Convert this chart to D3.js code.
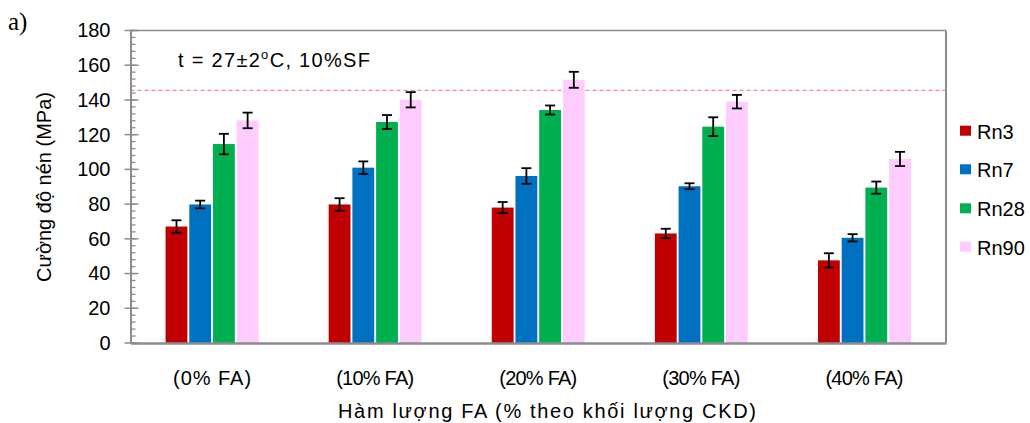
<!DOCTYPE html>
<html><head><meta charset="utf-8">
<script src="https://cdn.jsdelivr.net/npm/d3@7"></script>
<style>
html,body{margin:0;padding:0;background:#fff;}
svg{display:block;font-family:"Liberation Sans",Arial,sans-serif;}
</style></head>
<body>
<svg id="chart" width="1030" height="423"></svg>
<script>
const categories = ["(0% FA)", "(10% FA)", "(20% FA)", "(30% FA)", "(40% FA)"];
const seriesNames = ["Rn3", "Rn7", "Rn28", "Rn90"];
const rn3  = [67.1, 79.8, 78.0, 63.1, 47.6];
const rn7  = [79.8, 101.0, 96.2, 90.3, 60.6];
const rn28 = [114.6, 127.3, 134.2, 124.6, 89.5];
const rn90 = [128.2, 140.1, 151.6, 139.0, 106.0];
const err3  = [3.6, 3.6, 3.2, 2.7, 4.1];
const err7  = [2.2, 3.6, 4.5, 1.7, 2.1];
const err28 = [5.9, 4.0, 2.6, 5.4, 3.5];
const err90 = [4.5, 4.4, 4.6, 3.9, 4.1];
const yTicks = [0, 20, 40, 60, 80, 100, 120, 140, 160, 180];
const refLine = 145.5;
const colors = ["#C00000", "#0070C0", "#00B050", "#FFCCFF"];

const values = [rn3, rn7, rn28, rn90];
const errors = [err3, err7, err28, err90];

const svg = d3.select("#chart");
const L = 130.5, R = 946, T = 30.5, B = 343;

const y = d3.scaleLinear().domain([0, 180]).range([B, T]);
const x = d3.scaleBand().domain(categories).range([L, R]).paddingInner(0.43).paddingOuter(0.215);
const xs = d3.scaleBand().domain(seriesNames).range([0, x.bandwidth()]).paddingInner(0.08);

// frame (top + right)
svg.append("line").attr("x1", L).attr("x2", R).attr("y1", T).attr("y2", T)
  .attr("stroke", "#8c8c8c").attr("stroke-width", 1.5);
svg.append("line").attr("x1", R).attr("x2", R).attr("y1", T).attr("y2", B)
  .attr("stroke", "#8c8c8c").attr("stroke-width", 2);

// reference dashed line
svg.append("line").attr("x1", L).attr("x2", R).attr("y1", y(refLine)).attr("y2", y(refLine))
  .attr("stroke", "#EA8E8E").attr("stroke-width", 1.3).attr("stroke-dasharray", "4,3");

// bars
const data = [];
categories.forEach((c, i) => seriesNames.forEach((s, j) => data.push({c, s, j, v: values[j][i], e: errors[j][i]})));
svg.append("g").selectAll("rect").data(data).join("rect")
  .attr("x", d => x(d.c) + xs(d.s))
  .attr("width", xs.bandwidth())
  .attr("y", d => y(d.v))
  .attr("height", d => y(0) - y(d.v))
  .attr("fill", d => colors[d.j]);

// error bars
const eg = svg.append("g").attr("stroke", "#000").attr("stroke-width", 1.8);
data.forEach(d => {
  const cx = x(d.c) + xs(d.s) + xs.bandwidth() / 2;
  eg.append("line").attr("x1", cx).attr("x2", cx).attr("y1", y(d.v + d.e)).attr("y2", y(d.v - d.e));
  eg.append("line").attr("x1", cx - 5).attr("x2", cx + 5).attr("y1", y(d.v + d.e)).attr("y2", y(d.v + d.e));
  eg.append("line").attr("x1", cx - 5).attr("x2", cx + 5).attr("y1", y(d.v - d.e)).attr("y2", y(d.v - d.e));
});

// y axis minor ticks
const minor = d3.range(0, 181, 4);
svg.append("g").selectAll("line").data(minor).join("line")
  .attr("x1", L).attr("x2", L + 5).attr("y1", d => y(d)).attr("y2", d => y(d))
  .attr("stroke", "#8c8c8c").attr("stroke-width", 1.3);

// y axis
const yAxis = d3.axisLeft(y).tickValues(yTicks).tickSize(0).tickPadding(20);
const yg = svg.append("g").attr("transform", `translate(${L},0)`).call(yAxis);
yg.select(".domain").attr("stroke", "#8c8c8c").attr("stroke-width", 2);
yg.selectAll("text").attr("font-size", 20).attr("fill", "#000")
  .attr("font-family", "'Liberation Sans', Arial, sans-serif");
svg.append("g").selectAll("line").data(yTicks).join("line")
  .attr("x1", L - 6).attr("x2", L + 8).attr("y1", d => y(d)).attr("y2", d => y(d))
  .attr("stroke", "#8c8c8c").attr("stroke-width", 1.5);

// x axis
const xAxis = d3.axisBottom(x).tickSize(0).tickPadding(0);
const xg = svg.append("g").attr("transform", `translate(0,${B})`).call(xAxis);
xg.select(".domain").attr("stroke", "#8c8c8c").attr("stroke-width", 2.5);
xg.selectAll("text").attr("font-size", 20).attr("fill", "#000")
  .attr("font-family", "'Liberation Sans', Arial, sans-serif")
  .attr("y", 42).attr("dy", 0).attr("textLength", 78).attr("lengthAdjust", "spacing");

// axis titles
svg.append("text").attr("x", 547).attr("y", 418).attr("text-anchor", "middle")
  .attr("font-size", 20).attr("textLength", 418).attr("lengthAdjust", "spacing")
  .text("Hàm lượng FA (% theo khối lượng CKD)");
svg.append("text").attr("transform", "translate(51,187) rotate(-90)").attr("text-anchor", "middle")
  .attr("font-size", 20).text("Cường độ nén (MPa)");

// panel label
svg.append("text").attr("x", 8).attr("y", 30).attr("font-family", "'Liberation Serif','Times New Roman',serif")
  .attr("font-size", 25).text("a)");

// annotation
const ann = svg.append("text").attr("x", 178).attr("y", 67).attr("font-size", 20).attr("letter-spacing", 1.3);
ann.append("tspan").text("t = 27±2");
ann.append("tspan").attr("font-size", 13).attr("dy", -8).text("o");
ann.append("tspan").attr("dy", 8).text("C, 10%SF");

// legend
const lg = svg.append("g");
const legY = [130.7, 169.3, 208.3, 246.7];
seriesNames.forEach((s, j) => {
  lg.append("rect").attr("x", 960).attr("y", legY[j] - 5).attr("width", 11).attr("height", 10).attr("fill", colors[j]);
  lg.append("text").attr("x", 977).attr("y", legY[j] + 8).attr("font-size", 20).text(s);
});
</script>
</body></html>
